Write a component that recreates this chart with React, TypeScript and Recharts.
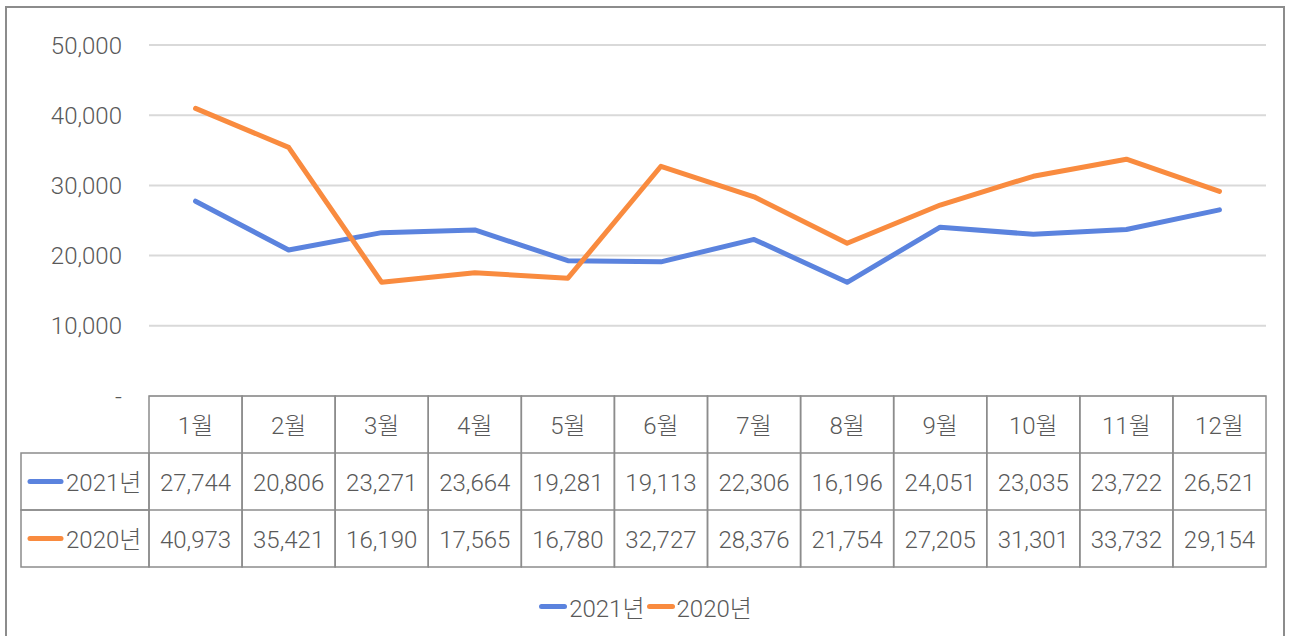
import React from "react";
import { LineChart, Line, XAxis, YAxis, CartesianGrid, Legend } from "recharts";

// monthly values
const months = ["1월", "2월", "3월", "4월", "5월", "6월", "7월", "8월", "9월", "10월", "11월", "12월"];
const values2021 = [27744, 20806, 23271, 23664, 19281, 19113, 22306, 16196, 24051, 23035, 23722, 26521];
const values2020 = [40973, 35421, 16190, 17565, 16780, 32727, 28376, 21754, 27205, 31301, 33732, 29154];
const yTicks = [0, 10000, 20000, 30000, 40000, 50000];

const SERIES = [
  { key: "y2021", name: "2021년", color: "#5B83DE", values: values2021 },
  { key: "y2020", name: "2020년", color: "#F98B3F", values: values2020 },
];

const data = months.map((m, i) => ({
  month: m,
  y2021: values2021[i],
  y2020: values2020[i],
}));

const WIDTH = 1293;
const HEIGHT = 636;
const PLOT_LEFT = 149;
const PLOT_RIGHT = 1266;
const PLOT_TOP = 45;
const PLOT_BOTTOM = 396;
const COL_W = (PLOT_RIGHT - PLOT_LEFT) / months.length;
const ROW_H = 57;
const TABLE_LEFT = 21;

const TEXT = "#595959";
const BORDER = "#8c8c8c";
const FONT = "Roboto, 'Noto Sans CJK KR', sans-serif";
const FS = 24;

const fmt = (v: number) => (v === 0 ? "-" : v.toLocaleString("en-US"));

// draws one column of the data table under each category
function TableTick(props: any) {
  const { x, y, index, payload } = props;
  const left = x - COL_W / 2;
  return (
    <g fontWeight={300}>
      {index === 0 &&
        SERIES.map((s, i) => {
          const top = y + ROW_H * (i + 1);
          return (
            <g key={s.key}>
              <rect x={TABLE_LEFT} y={top} width={left - TABLE_LEFT} height={ROW_H} fill="none" stroke={BORDER} strokeWidth={1.5} />
              <line x1={TABLE_LEFT + 9} x2={TABLE_LEFT + 40} y1={top + ROW_H / 2} y2={top + ROW_H / 2} stroke={s.color} strokeWidth={5} strokeLinecap="round" />
              <text x={TABLE_LEFT + 45} y={top + ROW_H / 2 + 1.5} dominantBaseline="central" fill={TEXT} fontSize={FS}>
                {s.name}
              </text>
            </g>
          );
        })}
      <rect x={left} y={y} width={COL_W} height={ROW_H * 3} fill="none" stroke={BORDER} strokeWidth={1.5} />
      <line x1={left} x2={left + COL_W} y1={y + ROW_H} y2={y + ROW_H} stroke={BORDER} strokeWidth={1.5} />
      <line x1={left} x2={left + COL_W} y1={y + ROW_H * 2} y2={y + ROW_H * 2} stroke={BORDER} strokeWidth={1.5} />
      <text x={x} y={y + ROW_H / 2 + 1} textAnchor="middle" dominantBaseline="central" fill={TEXT} fontSize={FS}>
        {payload.value}
      </text>
      {SERIES.map((s, i) => (
        <text key={s.key} x={x} y={y + ROW_H * (i + 1.5) + 1.5} textAnchor="middle" dominantBaseline="central" fill={TEXT} fontSize={FS}>
          {fmt(s.values[index])}
        </text>
      ))}
    </g>
  );
}

function LegendContent(props: any) {
  const payload = [...(props.payload || [])].sort(
    (a: any, b: any) => SERIES.findIndex((s) => s.name === a.value) - SERIES.findIndex((s) => s.name === b.value)
  );
  return (
    <div style={{ display: "flex", justifyContent: "center", alignItems: "center" }}>
      {payload.map((p: any) => (
        <div key={p.value} style={{ display: "flex", alignItems: "center", marginRight: 2 }}>
          <span style={{ display: "inline-block", width: 28, height: 5, borderRadius: 3, background: p.color, marginRight: 2 }} />
          <span style={{ color: TEXT, fontSize: FS, fontWeight: 300 }}>{p.value}</span>
        </div>
      ))}
    </div>
  );
}

export default function App() {
  return (
    <div style={{ position: "absolute", left: 0, top: 0, width: WIDTH, height: HEIGHT, background: "#fff", fontFamily: FONT, overflow: "hidden" }}>
      <div style={{ position: "absolute", left: 5, top: 6, width: 1276, height: 660, border: `2px solid ${BORDER}` }} />
      <LineChart
        width={WIDTH}
        height={HEIGHT}
        data={data}
        margin={{ top: PLOT_TOP, right: WIDTH - PLOT_RIGHT, left: 0, bottom: HEIGHT - PLOT_BOTTOM - 171 }}
      >
        <CartesianGrid vertical={false} stroke="#d9d9d9" strokeWidth={2} />
        <XAxis
          dataKey="month"
          height={171}
          interval={0}
          axisLine={false}
          tickLine={false}
          tickSize={0}
          tickMargin={0}
          padding={{ left: COL_W / 2, right: COL_W / 2 }}
          tick={<TableTick />}
        />
        <YAxis
          width={PLOT_LEFT}
          domain={[0, 50000]}
          ticks={yTicks}
          axisLine={false}
          tickLine={false}
          tickSize={0}
          tickMargin={27}
          tickFormatter={fmt}
          tick={{ fill: TEXT, fontSize: FS, fontWeight: 300 }}
        />
        {SERIES.map((s) => (
          <Line
            key={s.key}
            dataKey={s.key}
            name={s.name}
            stroke={s.color}
            strokeWidth={5}
            strokeLinejoin="round"
            strokeLinecap="round"
            dot={false}
            isAnimationActive={false}
          />
        ))}
        <Legend
          layout="horizontal"
          verticalAlign="middle"
          align="center"
          content={<LegendContent />}
          wrapperStyle={{ top: 589, left: 0, width: WIDTH }}
        />
      </LineChart>
    </div>
  );
}
